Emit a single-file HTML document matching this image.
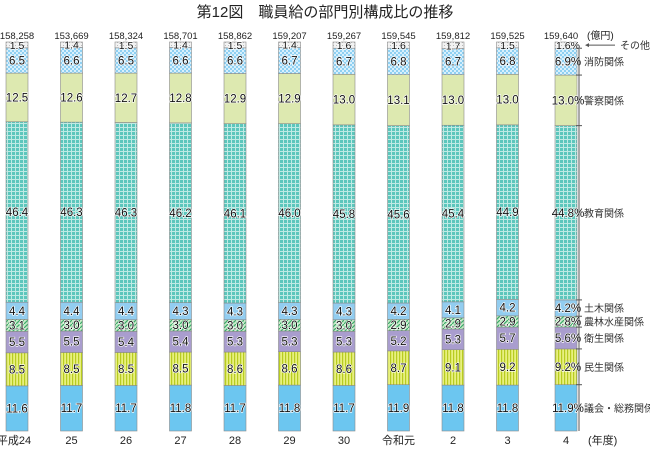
<!DOCTYPE html>
<html><head><meta charset="utf-8"><style>
body{margin:0;background:#fff;width:650px;height:447px;overflow:hidden;font-family:"Liberation Sans","Noto Sans CJK JP",sans-serif}
svg text{font-family:"Liberation Sans","Noto Sans CJK JP",sans-serif}
</style></head><body>
<svg id="chart" width="650" height="447">
<defs>
<pattern id="pDots" width="4" height="4" patternUnits="userSpaceOnUse"><rect width="4" height="4" fill="#8fd0f2"/><rect width="2" height="2" fill="#d8f0fc"/><rect x="2" y="2" width="2" height="2" fill="#d8f0fc"/></pattern>
<pattern id="pGrid" width="4" height="4" patternUnits="userSpaceOnUse"><rect width="4" height="4" fill="#bfeae4"/><rect width="3" height="3" fill="#5cc6bc"/></pattern>
<pattern id="pHatch" width="4" height="4" patternUnits="userSpaceOnUse"><rect width="4" height="4" fill="#c8ecc8"/><path d="M0 4L4 0" stroke="#3caa6a" stroke-width="1.2"/></pattern>
<pattern id="pStripe" width="3" height="3" patternUnits="userSpaceOnUse"><rect width="3" height="3" fill="#e8f080"/><rect width="1.2" height="3" fill="#b8cc20"/></pattern>
<pattern id="pGray" width="3" height="3" patternUnits="userSpaceOnUse"><rect width="3" height="3" fill="#f2f2f2"/><rect width="1" height="1" fill="#bbb"/></pattern>
</defs>
<text x="325" y="17" text-anchor="middle" font-size="15" fill="#222">第12図　職員給の部門別構成比の推移</text>
<g id="bars"></g>
<g id="legend"></g>
</svg>
<script>
const years=["平成24","25","26","27","28","29","30","令和元","2","3","4"];
const totals=["158,258","153,669","158,324","158,701","158,862","159,207","159,267","159,545","159,812","159,525","159,640"];
// bottom to top
const gikai=[11.6,11.7,11.7,11.8,11.7,11.8,11.7,11.9,11.8,11.8,11.9];
const minsei=[8.5,8.5,8.5,8.5,8.6,8.6,8.6,8.7,9.1,9.2,9.2];
const eisei=[5.5,5.5,5.4,5.4,5.3,5.3,5.3,5.2,5.3,5.7,5.6];
const norin=[3.1,3.0,3.0,3.0,3.0,3.0,3.0,2.9,2.9,2.9,2.8];
const doboku=[4.4,4.4,4.4,4.3,4.3,4.3,4.3,4.2,4.1,4.2,4.2];
const kyoiku=[46.4,46.3,46.3,46.2,46.1,46.0,45.8,45.6,45.4,44.9,44.8];
const keisatsu=[12.5,12.6,12.7,12.8,12.9,12.9,13.0,13.1,13.0,13.0,13.0];
const shobo=[6.5,6.6,6.5,6.6,6.6,6.7,6.7,6.8,6.7,6.8,6.9];
const sonota=[1.5,1.4,1.5,1.4,1.5,1.4,1.6,1.6,1.7,1.5,1.6];
const series=[gikai,minsei,eisei,norin,doboku,kyoiku,keisatsu,shobo,sonota];
const seriesNames=["議会・総務関係","民生関係","衛生関係","農林水産関係","土木関係","教育関係","警察関係","消防関係","その他"];
const fills=["#6cc6f0","url(#pStripe)","#a99dce","url(#pHatch)","#92cdf0","url(#pGrid)","#dde9b0","url(#pDots)","url(#pGray)"];
const NS="http://www.w3.org/2000/svg";
const x0=17, dx=54.5, bw=22, yTop=42, yBot=431;
const xC=i=>i===10?566:x0+dx*i;
const yScale=v=>v/100*(yBot-yTop);
function mk(t,a,p){const e=document.createElementNS(NS,t);for(const k in a)e.setAttribute(k,a[k]);p.appendChild(e);return e;}
const g=document.getElementById('bars');
years.forEach((yr,i)=>{
  const cx=xC(i);let y=yBot;
  const sum=series.reduce((s,a)=>s+a[i],0);
  series.forEach((arr,s)=>{
    const h=yScale(arr[i])*100/sum;y-=h;
    const r=mk('rect',{x:cx-bw/2,y:y,width:bw,height:h,fill:fills[s],stroke:"#8a8a8a","stroke-width":0.6},g);
    
    
    const t=mk('text',{x:cx+(i===10?2:0),y:y+h/2+4,"text-anchor":"middle","font-size":s===8?10.5:11.5,fill:"#111",stroke:"#fff","stroke-width":1.3,"paint-order":"stroke"},g);
    t.textContent=arr[i].toFixed(1)+(i===10?"%":"");
    
    
  });
  const tt=mk('text',{x:i===10?561:cx,y:39,"text-anchor":"middle","font-size":9.5,fill:"#222"},g);
  tt.textContent=totals[i];
  
  
  const xl=mk('text',{x:i===0?14:cx,y:444,"text-anchor":"middle","font-size":11,fill:"#222"},g);
  xl.textContent=yr;
  
  
});
const unit=mk('text',{x:587,y:39,"font-size":10,fill:"#222"},g);unit.textContent="(億円)";


const nendo=mk('text',{x:588,y:444,"font-size":11,fill:"#222"},g);nendo.textContent="(年度)";


// legend brackets using last bar
const lg=document.getElementById('legend');
mk('line',{x1:579,y1:49,x2:579,y2:yBot,stroke:"#555","stroke-width":1},lg);
let y=yBot;const last=10;const sum=series.reduce((s,a)=>s+a[last],0);
series.forEach((arr,s)=>{
  const h=yScale(arr[last])*100/sum;const mid=y-h/2;
  if(s<8){mk('line',{x1:576,y1:y-h,x2:582,y2:y-h,stroke:"#555"},lg);}
  const lx=s===8?620:584;
  const t=mk('text',{x:lx,y:(s===8?mid+4:mid+4),"font-size":10,fill:"#333"},lg);
  t.textContent=seriesNames[s];
  
  
  if(s===8){mk('line',{x1:588,y1:mid,x2:615,y2:mid,stroke:"#555"},lg);mk('path',{d:`M585 ${mid}l4 -2v4z`,fill:"#555"},lg);}
  y-=h;
});
</script>
</body></html>
